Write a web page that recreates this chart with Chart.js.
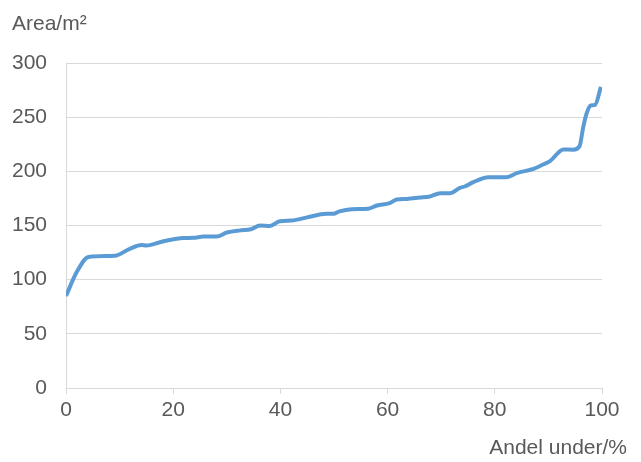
<!DOCTYPE html>
<html>
<head>
<meta charset="utf-8">
<script src="https://cdn.jsdelivr.net/npm/chart.js@4/dist/chart.umd.min.js"></script>
<style>
  html, body { margin: 0; padding: 0; background: #fff; }
  #wrap { width: 641px; height: 462px; position: relative; }
</style>
</head>
<body>
<div id="wrap"><canvas id="canvas" width="641" height="462"></canvas></div>
<script>
/* data */
const andel = [0, 2, 4.2, 9.1, 11.9, 14.1, 15, 18.2, 21.9, 23.8, 25.6, 28.1, 30, 32.5, 34.5, 36.2, 38, 39.9, 42.1, 45, 48.6, 49.9, 51, 53.3, 56.4, 58, 60.4, 61.7, 63.6, 66, 67.9, 69.8, 71.6, 73.5, 74.4, 76, 78.8, 82.2, 84.1, 87.2, 89, 90.3, 92.8, 94.6, 95.8, 96.5, 97.1, 97.9, 98.7, 99.8];
const area = [85, 107, 121, 122, 128.5, 132, 131.5, 135.5, 138.5, 138.6, 139.8, 139.8, 143.5, 145.5, 146.5, 150, 149.5, 154, 154.6, 157.5, 160.8, 160.8, 163, 165, 165.5, 168.5, 170.6, 174, 174.5, 175.8, 176.8, 179.8, 179.8, 184.8, 186, 190, 194.6, 194.6, 198.3, 202.3, 206.3, 209.4, 220.2, 219.9, 223, 240.8, 253, 260.8, 261.4, 278];
const xTicks = [0, 20, 40, 60, 80, 100];
const yTicks = [0, 50, 100, 150, 200, 250, 300];
const yTitle = 'Area/m²';
const xTitle = 'Andel under/%';

const textColor = '#595959';
const lineColor = '#d9d9d9';
const font = { family: '"Liberation Sans", Arial, sans-serif', size: 21 };

/* axis titles */
const titles = {
  id: 'titles',
  afterDraw(chart) {
    const c = chart.ctx;
    c.save();
    c.fillStyle = textColor;
    c.font = '21px "Liberation Sans", Arial, sans-serif';
    c.textBaseline = 'middle';
    c.textAlign = 'left';
    c.fillText(yTitle, 12, 24);
    c.textAlign = 'right';
    c.fillText(xTitle, 627, 448);
    c.restore();
  }
};

const points = andel.map((x, i) => ({ x: x, y: area[i] }));

new Chart(document.getElementById('canvas'), {
  type: 'line',
  data: {
    datasets: [{
      data: points,
      borderColor: '#5b9bd5',
      borderWidth: 4,
      pointRadius: 0,
      tension: 0.4,
      cubicInterpolationMode: 'monotone',
      fill: false
    }]
  },
  options: {
    responsive: false,
    animation: false,
    layout: { padding: { top: 63, right: 39, left: 0, bottom: 0 } },
    plugins: { legend: { display: false }, tooltip: { enabled: false } },
    scales: {
      x: {
        type: 'linear',
        min: 0,
        max: 100,
        afterBuildTicks: s => { s.ticks = xTicks.map(v => ({ value: v })); },
        afterFit: s => { s.height = 74; },
        grid: { drawOnChartArea: false, drawTicks: true, tickLength: 6, color: lineColor },
        border: { color: lineColor, width: 1 },
        ticks: { color: textColor, font: font, padding: 4, maxRotation: 0 }
      },
      y: {
        min: 0,
        max: 300,
        afterBuildTicks: s => { s.ticks = yTicks.map(v => ({ value: v })); },
        afterFit: s => { s.width = 66; },
        grid: { drawTicks: false, color: lineColor },
        border: { color: lineColor, width: 1 },
        ticks: { color: textColor, font: font, padding: 19 }
      }
    }
  },
  plugins: [titles]
});
</script>
</body>
</html>
